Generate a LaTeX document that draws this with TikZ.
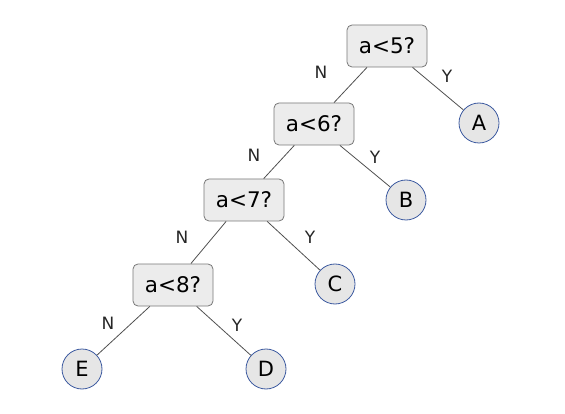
\documentclass[tikz,border=0pt]{standalone}
\usepackage{fontspec}
\setmainfont{DejaVu Sans}
\usepackage{tikz}
\usetikzlibrary{positioning}
\definecolor{boxfill}{RGB}{236,236,236}
\definecolor{boxline}{RGB}{120,120,120}
\definecolor{leaffill}{RGB}{230,230,230}
\definecolor{leafline}{RGB}{60,90,160}
\definecolor{edgegray}{RGB}{80,80,80}

\begin{document}
\begin{tikzpicture}[
    x=1pt, y=1pt,
    on grid,
    test/.style={rectangle, rounded corners=5pt, minimum width=80pt, minimum height=42pt, text centered, draw=boxline, line width=0.8pt, fill=boxfill, font=\fontsize{21.5}{24}\selectfont, inner sep=2pt},
    leaf/.style={circle, minimum size=40pt, inner sep=0pt, draw=leafline, line width=0.8pt, fill=leaffill, font=\fontsize{21}{24}\selectfont},
    edge/.style={draw=edgegray, line width=0.8pt},
    lab/.style={font=\fontsize{17}{19}\selectfont, text=black!85, inner sep=0pt},
]
\useasboundingbox (0,0) rectangle (565,-414);

% Tests
\node (q5) [test] at (387,-46) {a<5?};
\node (q6) [test, below left=78pt and 73pt of q5] {a<6?};
\node (q7) [test, below left=76pt and 70pt of q6] {a<7?};
\node (q8) [test, below left=85pt and 71pt of q7] {a<8?};

% Leaves
\node (la) [leaf, below right=77pt and 92pt of q5] {A};
\node (lb) [leaf, below right=76pt and 92pt of q6] {B};
\node (lc) [leaf, below right=84pt and 91pt of q7] {C};
\node (ld) [leaf, below right=84pt and 93pt of q8] {D};
\node (le) [leaf, below left=84pt and 91pt of q8] {E};

% Edges
\draw[edge] (q5) -- (q6);
\draw[edge] (q5) -- (la);
\draw[edge] (q6) -- (q7);
\draw[edge] (q6) -- (lb);
\draw[edge] (q7) -- (q8);
\draw[edge] (q7) -- (lc);
\draw[edge] (q8) -- (le);
\draw[edge] (q8) -- (ld);

% Edge labels
\node (n5) [lab] at (321,-72) {N};
\node (y5) [lab] at (447,-76) {Y};
\node (n6) [lab] at (254,-155) {N};
\node (y6) [lab] at (375,-157) {Y};
\node (n7) [lab] at (182,-237) {N};
\node (y7) [lab] at (310,-237) {Y};
\node (n8) [lab] at (108,-323) {N};
\node (y8) [lab] at (237,-325) {Y};

\end{tikzpicture}
\end{document}
